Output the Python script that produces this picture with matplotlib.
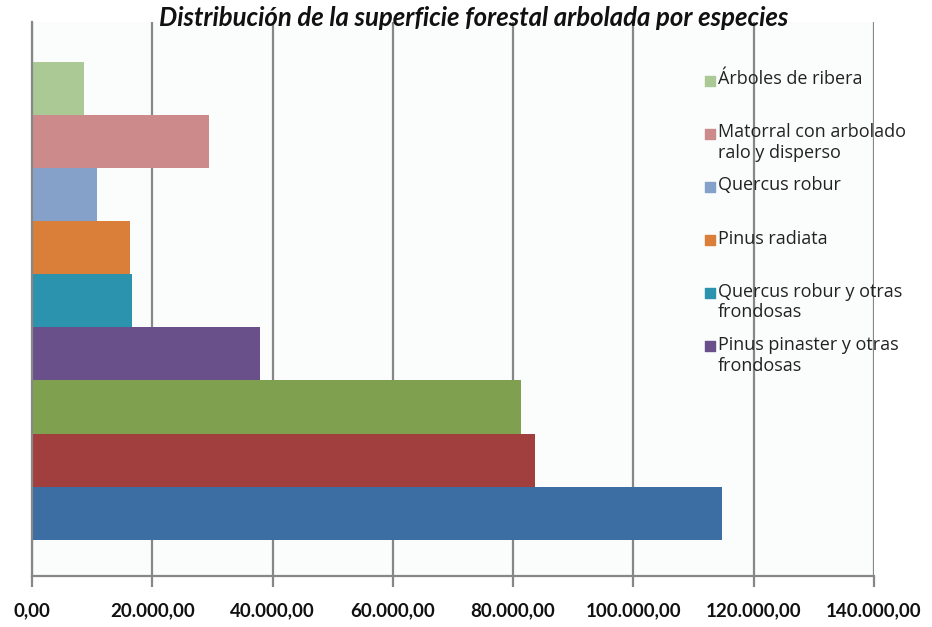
"""Distribución de la superficie forestal arbolada por especies (barras horizontales)."""

import matplotlib

matplotlib.use("Agg")
import matplotlib.pyplot as plt
import matplotlib.transforms as mtransforms
from matplotlib.ticker import FuncFormatter

# Series, de abajo hacia arriba
series = [
    "Serie 1",
    "Serie 2",
    "Serie 3",
    "Pinus pinaster y otras\nfrondosas",
    "Quercus robur y otras\nfrondosas",
    "Pinus radiata",
    "Quercus robur",
    "Matorral con arbolado\nralo y disperso",
    "Árboles de ribera",
]
superficie = [114800, 83600, 81300, 37900, 16600, 16300, 10800, 29400, 8600]
colores = [
    "#3c6ea3", "#a13f3e", "#7ea04f", "#6a508a", "#2b93ae",
    "#d97f3a", "#86a1c9", "#cc8a8a", "#abc995",
]
en_leyenda = [False, False, False, True, True, True, True, True, True]
x_ticks = [0, 20000, 40000, 60000, 80000, 100000, 120000, 140000]

titulo = "Distribución de la superficie forestal arbolada por especies"


def fmt_es(v, _pos=None):
    s = f"{v:,.2f}"
    return s.replace(",", "X").replace(".", ",").replace("X", ".")


def main() -> None:
    plt.rcParams["font.family"] = ["Lato", "DejaVu Sans"]

    fig = plt.figure(figsize=(9.32, 6.27), dpi=100)
    fig.patch.set_facecolor("white")
    ax = fig.add_axes([0.0343, 0.0813, 0.9034, 0.884])
    ax.set_facecolor("#fbfdfd")

    pos = list(range(len(series)))
    ax.barh(pos, superficie, height=1.0, color=colores, zorder=2)

    ax.set_xlim(0, 140000)
    ax.set_ylim(-1.18, 9.25)
    ax.set_xticks(x_ticks)
    ax.xaxis.set_major_formatter(FuncFormatter(fmt_es))
    ax.set_yticks([])
    ax.grid(axis="x", color="#878787", lw=1.6, zorder=1)

    for side in ("top", "right"):
        ax.spines[side].set_visible(False)
    for side in ("left", "bottom"):
        ax.spines[side].set_color("#878787")
        ax.spines[side].set_linewidth(1.6)
    ax.tick_params(axis="x", length=8, width=1.6, color="#878787", pad=11,
                   labelsize=13.5, labelcolor="#111111")
    for lbl in ax.get_xticklabels():
        lbl.set_fontweight("bold")

    # Leyenda recortada, alineada con las barras superiores
    trans = mtransforms.blended_transform_factory(ax.transAxes, ax.transData)
    for p, nombre, col, vis in zip(pos, series, colores, en_leyenda):
        if not vis:
            continue
        y = p + 0.14
        ax.scatter([0.805], [y], marker="s", s=60, color=col, transform=trans,
                   zorder=4, clip_on=False)
        ax.text(0.815, y + 0.2, nombre, transform=trans, va="top", ha="left",
                fontsize=13, family=["Open Sans", "DejaVu Sans"],
                color="#222222", linespacing=1.2, zorder=4)

    fig.suptitle(titulo, x=0.508, y=0.99, fontsize=18.5, fontweight="bold",
                 fontstyle="italic", color="#111111")

    fig.savefig("out.png", dpi=100)


if __name__ == "__main__":
    main()
